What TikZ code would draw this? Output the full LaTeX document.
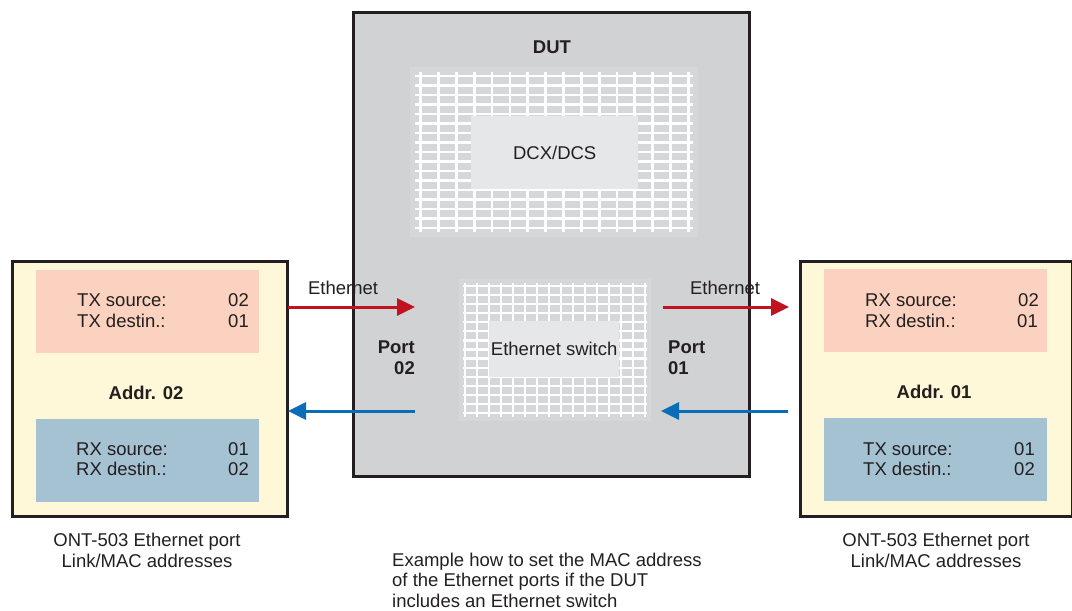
\documentclass[tikz,border=0pt]{standalone}
\usepackage{fontspec}
\setmainfont{Liberation Sans}
\usetikzlibrary{arrows.meta}
\definecolor{dutgray}{HTML}{D1D2D4}
\definecolor{gridbg}{HTML}{D6D7D9}
\definecolor{innergray}{HTML}{E6E7E8}
\definecolor{devyellow}{HTML}{FEF8D8}
\definecolor{salmon}{HTML}{FAD2BF}
\definecolor{steel}{HTML}{A4C2D2}
\definecolor{arrred}{HTML}{C1121F}
\definecolor{arrblue}{HTML}{0B6DB7}
\definecolor{ink}{HTML}{231F20}
\tikzset{
  frame/.style={draw=ink, line width=2.5pt, anchor=north west, inner sep=0pt},
  panel/.style={anchor=north west, inner sep=0pt, draw=none},
  txt/.style={inner sep=0pt, text=ink},
  bold/.style={txt, font=\fontsize{18.5}{22}\selectfont\bfseries},
  gridline/.style={draw=white, line width=2.8pt},
  gridlinethin/.style={draw=white, line width=2.2pt},
  redarrow/.style={draw=arrred, line width=3pt, -{Triangle[length=18pt,width=17pt]}},
  bluearrow/.style={draw=arrblue, line width=3pt, -{Triangle[length=18pt,width=17pt]}},
}
\begin{document}
\begin{tikzpicture}[x=1pt,y=-1pt,font=\fontsize{18.5}{22}\selectfont]
\useasboundingbox (0,0) rectangle (1072,611);

% DUT
\node[frame, fill=dutgray, minimum width=396pt, minimum height=464pt] (dut) at (352,11) {};
\node[bold, anchor=base] (duttitle) at (552,53.5) {DUT};

% upper grid
\fill[gridbg] (410,67) rectangle (698,237);
\foreach \i in {0,...,16} {
  \draw[gridline] (415,{76+\i*9.5}) -- (693,{76+\i*9.5});
}
\foreach \i in {0,...,15} {
  \draw[gridline] ({420.7+\i*17.84},72) -- ({420.7+\i*17.84},232);
}
\node[panel, fill=innergray, minimum width=167pt, minimum height=73pt] (dcxbox) at (471,116) {};
\node[txt] (dcx) at (dcxbox.center) {DCX/DCS};

% lower grid
\fill[gridbg] (459,279) rectangle (651,421);
\foreach \i in {0,...,14} {
  \draw[gridlinethin] (463,{286+\i*9.07}) -- (647,{286+\i*9.07});
}
\foreach \i in {0,...,15} {
  \draw[gridlinethin] ({465+\i*12},283) -- ({465+\i*12},417);
}
\node[panel, fill=innergray, minimum width=130pt, minimum height=56pt] (swbox) at (489,321) {};
\node[txt] (sw) at (swbox.center) {Ethernet switch};

% left device
\node[frame, fill=devyellow, minimum width=275pt, minimum height=255pt] (ldev) at (11,260) {};
\node[panel, fill=salmon, minimum width=223pt, minimum height=83pt] (ltx) at (36,270) {};
\node[panel, fill=steel, minimum width=223pt, minimum height=83pt] (lrx) at (36,419) {};
\node[txt, anchor=base west] (l1) at (77,306.5) {TX source:};
\node[txt, anchor=base east] (l1v) at (249,306.5) {02};
\node[txt, anchor=base west] (l2) at (77,327.5) {TX destin.:};
\node[txt, anchor=base east] (l2v) at (249,327.5) {01};
\node[bold, anchor=base] (laddr) at (146,399.5) {Addr. 02};
\node[txt, anchor=base west] (l3) at (76,455.5) {RX source:};
\node[txt, anchor=base east] (l3v) at (249,455.5) {01};
\node[txt, anchor=base west] (l4) at (76,475.5) {RX destin.:};
\node[txt, anchor=base east] (l4v) at (249,475.5) {02};

% right device
\node[frame, fill=devyellow, minimum width=272pt, minimum height=255pt] (rdev) at (799,260) {};
\node[panel, fill=salmon, minimum width=223pt, minimum height=83pt] (rrx) at (824,269) {};
\node[panel, fill=steel, minimum width=223pt, minimum height=83pt] (rtx) at (824,418) {};
\node[txt, anchor=base west] (r1) at (865,306.5) {RX source:};
\node[txt, anchor=base east] (r1v) at (1039,306.5) {02};
\node[txt, anchor=base west] (r2) at (865,327.5) {RX destin.:};
\node[txt, anchor=base east] (r2v) at (1038,327.5) {01};
\node[bold, anchor=base] (raddr) at (934,398.5) {Addr. 01};
\node[txt, anchor=base west] (r3) at (863,455.5) {TX source:};
\node[txt, anchor=base east] (r3v) at (1035,455.5) {01};
\node[txt, anchor=base west] (r4) at (863,475.5) {TX destin.:};
\node[txt, anchor=base east] (r4v) at (1035,475.5) {02};

% ports
\node[bold, anchor=base east] (p2a) at (415,353.5) {Port};
\node[bold, anchor=base east] (p2b) at (415,374.5) {02};
\node[bold, anchor=base west] (p1a) at (668,353.5) {Port};
\node[bold, anchor=base west] (p1b) at (668,374.5) {01};

% arrows
\coordinate (lr1) at (288,307);
\coordinate (lr2) at (415,307);
\coordinate (lb1) at (415,411);
\coordinate (lb2) at (288,411);
\coordinate (rr1) at (663,307);
\coordinate (rr2) at (789,307);
\coordinate (rb1) at (788,411);
\coordinate (rb2) at (661,411);
\draw[redarrow] (lr1) -- (lr2);
\draw[bluearrow] (lb1) -- (lb2);
\draw[redarrow] (rr1) -- (rr2);
\draw[bluearrow] (rb1) -- (rb2);
\node[txt, anchor=base] (eth1) at (343,294.5) {Ethernet};
\node[txt, anchor=base] (eth2) at (725,294.5) {Ethernet};

% captions
\node[txt, anchor=base] (lcap1) at (147,546.5) {ONT-503 Ethernet port};
\node[txt, anchor=base] (lcap2) at (147,567.5) {Link/MAC addresses};
\node[txt, anchor=base] (rcap1) at (936,546.5) {ONT-503 Ethernet port};
\node[txt, anchor=base] (rcap2) at (936,567.5) {Link/MAC addresses};
\node[txt, anchor=base west] (ex1) at (392,566.5) {Example how to set the MAC address};
\node[txt, anchor=base west] (ex2) at (392,586.5) {of the Ethernet ports if the DUT};
\node[txt, anchor=base west] (ex3) at (392,607.5) {includes an Ethernet switch};
\end{tikzpicture}
\end{document}
